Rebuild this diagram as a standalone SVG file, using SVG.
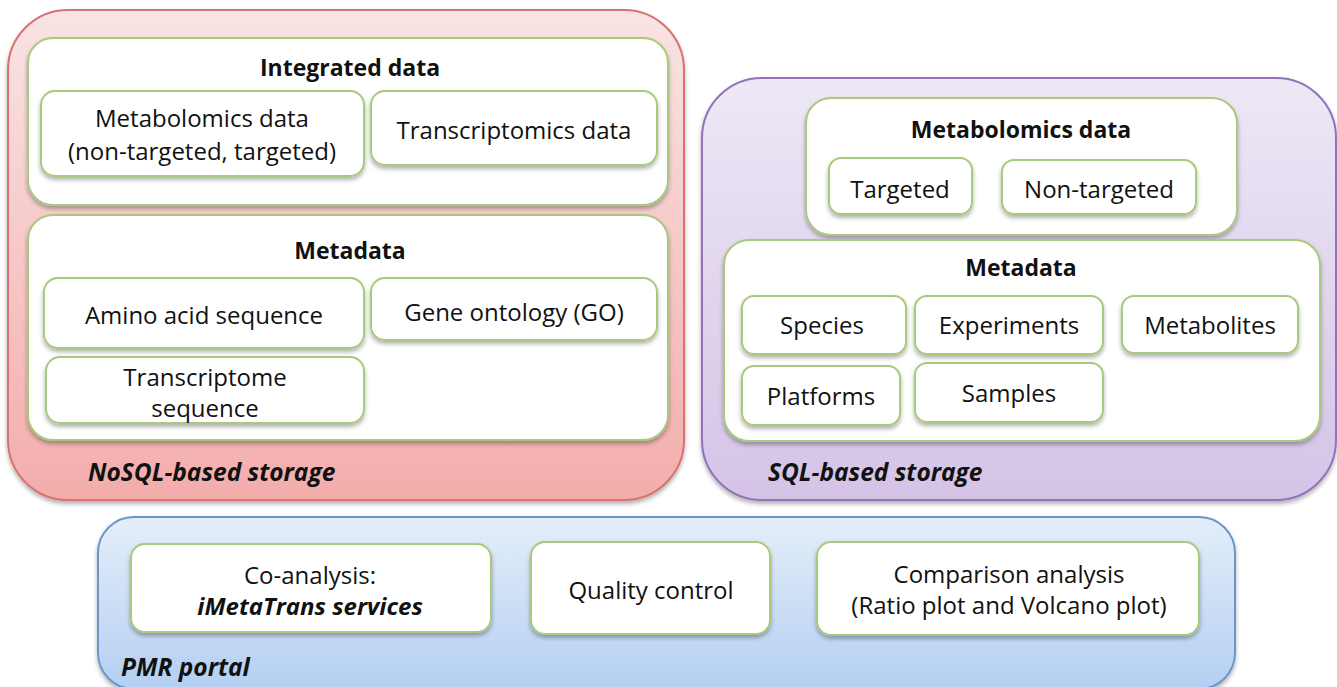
<svg xmlns="http://www.w3.org/2000/svg" width="1337" height="687" viewBox="0 0 1337 687">
<defs>
<linearGradient id="gRed" x1="0" y1="0" x2="0" y2="1"><stop offset="0" stop-color="#f9e4e4"/><stop offset="1" stop-color="#f3adab"/></linearGradient>
<linearGradient id="gPur" x1="0" y1="0" x2="0" y2="1"><stop offset="0" stop-color="#eee8f6"/><stop offset="1" stop-color="#d4c3e6"/></linearGradient>
<linearGradient id="gBlu" x1="0" y1="0" x2="0" y2="1"><stop offset="0" stop-color="#e4eef9"/><stop offset="1" stop-color="#b4cff2"/></linearGradient>
<filter id="sh" x="-10%" y="-10%" width="120%" height="130%"><feDropShadow dx="0" dy="3" stdDeviation="2" flood-color="#000" flood-opacity="0.3"/></filter>
</defs>
<style>
.box{fill:#fff;stroke:#a9c97b;stroke-width:2;filter:url(#sh)}
text{font-family:"Open Sans","Liberation Sans",sans-serif;fill:#111;text-anchor:middle}
.t{font-size:24px}
.h{font-size:23px;font-weight:bold}
.lab{font-size:24.5px;font-weight:bold;font-style:italic;text-anchor:start}
</style>
<g id="nosql">
<rect x="8" y="10" width="676" height="490" rx="60" fill="url(#gRed)" stroke="#d8726f" stroke-width="2" filter="url(#sh)"/>
<text class="lab" x="88" y="481">NoSQL-based storage</text>
</g>
<g id="integrated">
<rect class="box" x="28" y="38" width="640" height="167" rx="25"/>
<text class="h" x="350" y="76">Integrated data</text>
</g>
<g id="metab-data">
<rect class="box" x="41" y="91" width="323" height="85" rx="14"/>
<text class="t" x="202" y="127">Metabolomics data</text>
<text class="t" x="202" y="160">(non-targeted, targeted)</text>
</g>
<g id="trans-data">
<rect class="box" x="371" y="91" width="286" height="74" rx="14"/>
<text class="t" x="514" y="139">Transcriptomics data</text>
</g>
<g id="metadata1">
<rect class="box" x="28" y="215" width="640" height="225" rx="25"/>
<text class="h" x="350" y="259">Metadata</text>
</g>
<g id="amino">
<rect class="box" x="44" y="278" width="320" height="70" rx="14"/>
<text class="t" x="204" y="324">Amino acid sequence</text>
</g>
<g id="go">
<rect class="box" x="371" y="278" width="286" height="62" rx="14"/>
<text class="t" x="514" y="321">Gene ontology (GO)</text>
</g>
<g id="transseq">
<rect class="box" x="46" y="357" width="318" height="66" rx="14"/>
<text class="t" x="205" y="386">Transcriptome</text>
<text class="t" x="205" y="417">sequence</text>
</g>
<g id="sql">
<rect x="702" y="78" width="634" height="422" rx="60" fill="url(#gPur)" stroke="#9273b9" stroke-width="2" filter="url(#sh)"/>
<text class="lab" x="768" y="481">SQL-based storage</text>
</g>
<g id="metab2">
<rect class="box" x="806" y="98" width="431" height="137" rx="25"/>
<text class="h" x="1021" y="138">Metabolomics data</text>
</g>
<g id="targeted">
<rect class="box" x="829" y="158" width="143" height="56" rx="12"/>
<text class="t" x="900" y="198">Targeted</text>
</g>
<g id="nontargeted">
<rect class="box" x="1002" y="160" width="194" height="54" rx="12"/>
<text class="t" x="1099" y="198">Non-targeted</text>
</g>
<g id="metadata2">
<rect class="box" x="724" y="240" width="596" height="201" rx="25"/>
<text class="h" x="1021" y="276">Metadata</text>
</g>
<g id="species">
<rect class="box" x="742" y="296" width="164" height="58" rx="12"/>
<text class="t" x="822" y="334">Species</text>
</g>
<g id="experiments">
<rect class="box" x="915" y="296" width="188" height="58" rx="12"/>
<text class="t" x="1009" y="334">Experiments</text>
</g>
<g id="metabolites">
<rect class="box" x="1122" y="296" width="176" height="57" rx="12"/>
<text class="t" x="1210" y="334">Metabolites</text>
</g>
<g id="platforms">
<rect class="box" x="742" y="366" width="158" height="59" rx="12"/>
<text class="t" x="821" y="405">Platforms</text>
</g>
<g id="samples">
<rect class="box" x="915" y="363" width="188" height="59" rx="12"/>
<text class="t" x="1009" y="402">Samples</text>
</g>
<g id="pmr">
<rect x="98" y="517" width="1137" height="172" rx="36" fill="url(#gBlu)" stroke="#6b96c9" stroke-width="2" filter="url(#sh)"/>
<text class="lab" x="121" y="676">PMR portal</text>
</g>
<g id="coanalysis">
<rect class="box" x="131" y="544" width="360" height="88" rx="14"/>
<text class="t" x="310" y="584" font-size="23">Co-analysis:</text>
<text class="t" x="310" y="615" font-size="23" font-weight="bold" font-style="italic">iMetaTrans services</text>
</g>
<g id="qc">
<rect class="box" x="531" y="542" width="239" height="92" rx="14"/>
<text class="t" x="651" y="599">Quality control</text>
</g>
<g id="comparison">
<rect class="box" x="817" y="542" width="382" height="93" rx="14"/>
<text class="t" x="1009" y="583">Comparison analysis</text>
<text class="t" x="1009" y="614">(Ratio plot and Volcano plot)</text>
</g>
<g id="connectors"/>
</svg>
